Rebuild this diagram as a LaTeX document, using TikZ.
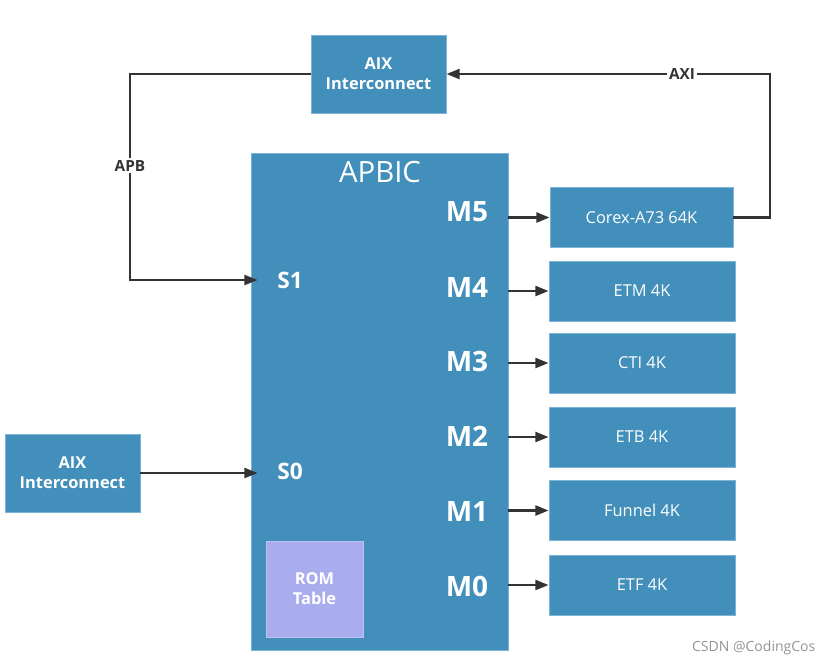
\documentclass[tikz,border=0pt]{standalone}
\usepackage{fontspec}
\setmainfont{Open Sans}
\usepackage{tikz}
\usetikzlibrary{arrows.meta, positioning}
\usepackage{xcolor}
\definecolor{boxblue}{HTML}{418FBA}
\definecolor{boxedge}{HTML}{7DB4D6}
\definecolor{romfill}{HTML}{A9ADEE}
\definecolor{romedge}{HTML}{BDC0F4}
\definecolor{wire}{HTML}{333333}

\begin{document}
\begin{tikzpicture}[
    x=0.75pt, y=-0.75pt,
    every node/.style={font=\small},
    box/.style={draw=boxedge, fill=boxblue, line width=0.6pt, inner sep=0pt, text=white, align=center},
    ic/.style={box, minimum width=101.25pt, minimum height=58.5pt, font=\bfseries\fontsize{12.3}{15}\selectfont},
    slave/.style={box, minimum width=139.5pt, minimum height=45pt, font=\fontsize{12.3}{14}\selectfont},
    port/.style={text=white, font=\bfseries\fontsize{21}{24}\selectfont},
    sport/.style={text=white, font=\bfseries\fontsize{17}{20}\selectfont},
    line/.style={-{Triangle[length=10pt, width=7.5pt]}, line width=1.9pt, draw=wire},
    tag/.style={fill=white, inner sep=1.5pt, text=wire, font=\bfseries\fontsize{11.5}{13}\selectfont}
]
\useasboundingbox (0,0) rectangle (834,665);

% interconnects
\node[ic] (aixtop) at (378.5,74) {AIX\\Interconnect};
\node[ic] (aixleft) at (72.5,473) {AIX\\Interconnect};

% APBIC block
\node[box, minimum width=192.75pt, minimum height=372.75pt] (apbic) at (379.5,401.5) {};
\node[text=white, font=\fontsize{22}{25}\selectfont] (title) at (380,172) {APBIC};
\node[box, draw=romedge, fill=romfill, minimum width=72.75pt, minimum height=72pt,
      font=\bfseries\fontsize{12.3}{15}\selectfont] (rom) at (314.5,589) {ROM\\Table};
\node[sport] (s1) at (290,280) {S1};
\node[sport] (s0) at (290,471) {S0};
\node[port] (m5) at (467,212) {M5};
\node[port] (m4) at (467,287) {M4};
\node[port] (m3) at (467,361) {M3};
\node[port] (m2) at (467,436) {M2};
\node[port] (m1) at (467,511) {M1};
\node[port] (m0) at (467,586) {M0};

% slaves
\node[slave, minimum width=137.25pt] (corex) at (641.5,217.5) {Corex-A73 64K};
\node[slave] (etm) at (642,291) {ETM 4K};
\node[slave] (cti) at (642,363) {CTI 4K};
\node[slave] (etb) at (642,437) {ETB 4K};
\node[slave] (funnel) at (642,510.5) {Funnel 4K};
\node[slave] (etf) at (642,585) {ETF 4K};

% master side
\foreach \s in {corex, etm, cti, etb, funnel, etf}
    \draw[line] (apbic.east |- \s) -- (\s);

% slave side
\draw[line] (aixleft) -- ([xshift=5.25pt]apbic.west |- aixleft);
\draw[line] (aixtop.west) -- (130,74) |- node[tag, pos=0.223] {APB} ([xshift=5.25pt]apbic.west |- s1);
\draw[line] (corex.east) -- (770,217.5) |- node[tag, pos=0.636] {AXI} (aixtop.east);

\node[anchor=east, text=gray!85, font=\fontsize{10.5}{12}\selectfont] (mark) at (820,648) {CSDN @CodingCos};
\end{tikzpicture}
\end{document}
